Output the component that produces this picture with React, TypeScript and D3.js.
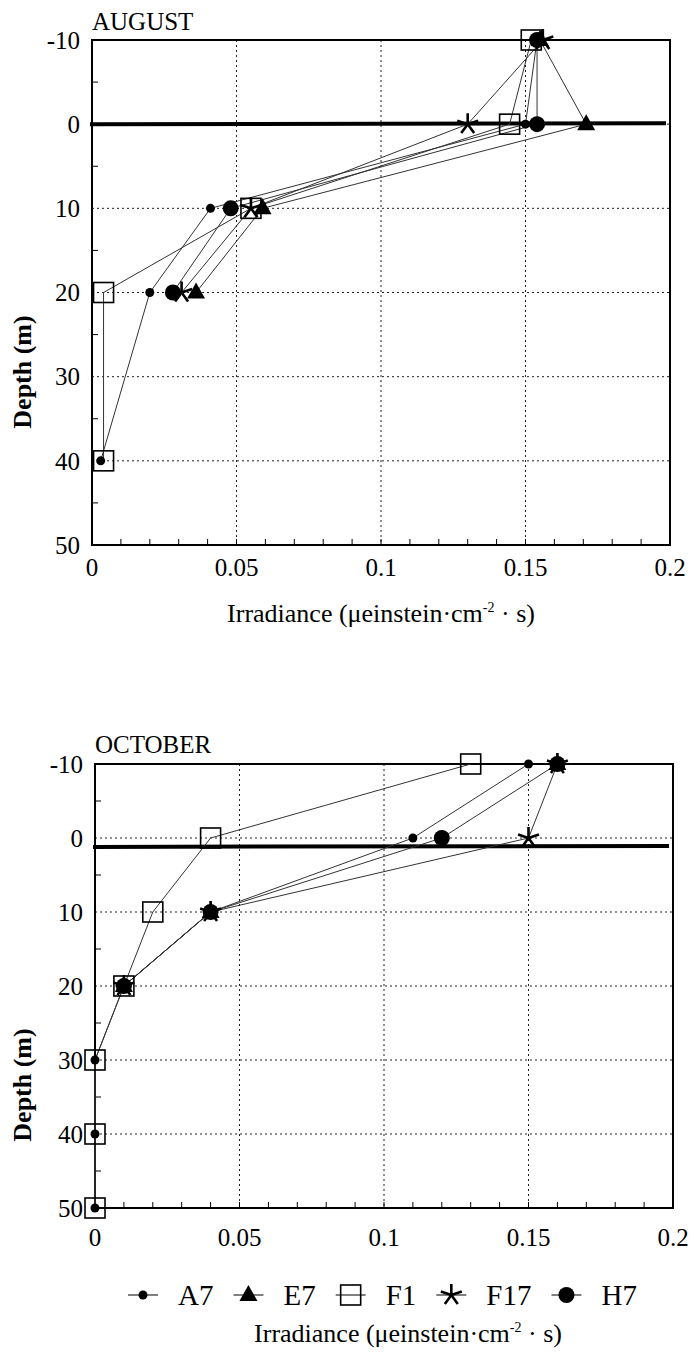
import * as d3 from 'd3'
import { useEffect, useRef } from 'react'

// depth (m) and irradiance readings per station
const depths = [-10, 0, 10, 20, 30, 40, 50]
const stations = ['A7', 'E7', 'F1', 'F17', 'H7']

const augA7 = [0.154, 0.150, 0.041, 0.020, null, 0.003, null]
const augE7 = [0.155, 0.171, 0.059, 0.036, null, null, null]
const augF1 = [0.152, 0.1445, 0.055, 0.004, null, 0.004, null]
const augF17 = [0.156, 0.130, 0.055, 0.031, null, null, null]
const augH7 = [0.154, 0.154, 0.048, 0.028, null, null, null]

const octA7 = [0.15, 0.11, 0.04, 0.01, 0, 0, 0]
const octE7 = [0.16, null, 0.04, 0.01, null, null, null]
const octF1 = [0.13, 0.04, 0.02, 0.01, 0, 0, 0]
const octF17 = [0.16, 0.15, 0.04, 0.01, null, null, null]
const octH7 = [0.16, 0.12, 0.04, 0.01, null, null, null]

const xTicks = [0, 0.05, 0.1, 0.15, 0.2]
const xTickLabels = ['0', '0.05', '0.1', '0.15', '0.2']
const yTicks = [-10, 0, 10, 20, 30, 40, 50]

const months = ['AUGUST', 'OCTOBER']
const surfaceDepths = [0, 1.2]

const FONT = '"Liberation Serif", "Times New Roman", serif'

type Values = (number | null)[]

const drawMarker = (g: any, name: string, x: number, y: number) => {
  if (name === 'A7') {
    g.append('circle').attr('cx', x).attr('cy', y).attr('r', 4.5).attr('fill', '#000')
  } else if (name === 'H7') {
    g.append('circle').attr('cx', x).attr('cy', y).attr('r', 8).attr('fill', '#000')
  } else if (name === 'E7') {
    g.append('path')
      .attr('d', `M${x},${y - 10}L${x + 9},${y + 6}L${x - 9},${y + 6}Z`)
      .attr('fill', '#000')
  } else if (name === 'F1') {
    g.append('rect')
      .attr('x', x - 10).attr('y', y - 10)
      .attr('width', 20).attr('height', 20)
      .attr('fill', 'none').attr('stroke', '#000').attr('stroke-width', 1.6)
  } else {
    // five armed asterisk
    const arms = d3.range(5).map(i => -Math.PI / 2 + i * 2 * Math.PI / 5)
    g.append('path')
      .attr('d', arms.map(a => `M${x},${y}L${x + Math.cos(a) * 11},${y + Math.sin(a) * 11}`).join(''))
      .attr('stroke', '#000').attr('stroke-width', 2.6).attr('fill', 'none')
  }
}

const drawPanel = (svg: any, opts: {
  x0: number, x1: number, yTop: number, yBot: number,
  title: string, surface: number, series: Values[], bridge: boolean,
  titleX: number, titleY: number, tickY: number, labelX: number, labelY: number, depthY: number,
}) => {
  const { x0, x1, yTop, yBot } = opts
  const x = d3.scaleLinear().domain([0, 0.2]).range([x0, x1])
  const y = d3.scaleLinear().domain([-10, 50]).range([yTop, yBot])
  const g = svg.append('g')

  // dotted grid
  g.selectAll('line.vg').data(xTicks.slice(1, -1)).enter().append('line')
    .attr('x1', (d: number) => x(d)).attr('x2', (d: number) => x(d))
    .attr('y1', yTop).attr('y2', yBot)
    .attr('stroke', '#222').attr('stroke-width', 1).attr('stroke-dasharray', '2,3')
  g.selectAll('line.hg').data(yTicks.slice(1, -1)).enter().append('line')
    .attr('x1', x0).attr('x2', x1)
    .attr('y1', (d: number) => y(d)).attr('y2', (d: number) => y(d))
    .attr('stroke', '#222').attr('stroke-width', 1).attr('stroke-dasharray', '2,3')

  // minor ticks
  g.selectAll('line.xt').data(d3.range(1, 20).map(i => i / 100)).enter().append('line')
    .attr('x1', (d: number) => x(d)).attr('x2', (d: number) => x(d))
    .attr('y1', yBot).attr('y2', yBot - 6)
    .attr('stroke', '#000').attr('stroke-width', 1)
  g.selectAll('line.yt').data(d3.range(-5, 50, 10)).enter().append('line')
    .attr('x1', x0).attr('x2', x0 + 6)
    .attr('y1', (d: number) => y(d)).attr('y2', (d: number) => y(d))
    .attr('stroke', '#000').attr('stroke-width', 1)

  g.append('rect')
    .attr('x', x0).attr('y', yTop).attr('width', x1 - x0).attr('height', yBot - yTop)
    .attr('fill', 'none').attr('stroke', '#000').attr('stroke-width', 2)

  // sea surface
  g.append('line')
    .attr('x1', x0 - 2).attr('x2', x1 - 4)
    .attr('y1', y(opts.surface)).attr('y2', y(opts.surface) - 1)
    .attr('stroke', '#000').attr('stroke-width', 4)

  // tick labels
  g.selectAll('text.yl').data(yTicks).enter().append('text')
    .attr('x', x0 - 12).attr('y', (d: number) => y(d)).attr('dy', '0.35em')
    .attr('text-anchor', 'end').attr('font-family', FONT).attr('font-size', 25)
    .text((d: number) => `${d}`)
  g.selectAll('text.xl').data(xTicks).enter().append('text')
    .attr('x', (d: number) => x(d)).attr('y', opts.tickY)
    .attr('text-anchor', 'middle').attr('font-family', FONT).attr('font-size', 25)
    .text((_d: number, i: number) => xTickLabels[i])

  g.append('text')
    .attr('x', opts.titleX).attr('y', opts.titleY)
    .attr('font-family', FONT).attr('font-size', 25).text(opts.title)

  g.append('text')
    .attr('transform', `translate(31,${opts.depthY}) rotate(-90)`)
    .attr('text-anchor', 'middle').attr('font-family', FONT).attr('font-size', 26)
    .attr('font-weight', 'bold')
    .text('Depth (m)')

  const lab = g.append('text')
    .attr('x', opts.labelX).attr('y', opts.labelY)
    .attr('text-anchor', 'middle').attr('font-family', FONT).attr('font-size', 26)
  lab.append('tspan').text('Irradiance (\u03bceinstein\u00b7cm')
  lab.append('tspan').attr('font-size', 14).attr('dy', -10).text('-2')
  lab.append('tspan').attr('dy', 10).text(' \u00b7 s)')

  // profiles
  const line = d3.line<[number, number | null]>()
    .defined(d => d[1] !== null)
    .x(d => x(d[1] as number))
    .y(d => y(d[0]))
  opts.series.forEach(vals => {
    let pts: [number, number | null][] = depths.map((d, i) => [d, vals[i]])
    if (opts.bridge) pts = pts.filter(p => p[1] !== null)
    g.append('path').attr('d', line(pts))
      .attr('fill', 'none').attr('stroke', '#333').attr('stroke-width', 1)
  })
  opts.series.forEach((vals, s) => {
    vals.forEach((v, i) => {
      if (v !== null) drawMarker(g, stations[s], x(v), y(depths[i]))
    })
  })
}

export default function App() {
  const ref = useRef<SVGSVGElement>(null)

  useEffect(() => {
    if (!ref.current) return
    document.body.style.margin = '0'
    const svg = d3.select(ref.current)
    svg.selectAll('*').remove()

    drawPanel(svg, {
      x0: 92, x1: 670, yTop: 40, yBot: 545,
      title: months[0], surface: surfaceDepths[0],
      series: [augA7, augE7, augF1, augF17, augH7], bridge: true,
      titleX: 92, titleY: 30, tickY: 576, labelX: 381, labelY: 622, depthY: 372,
    })
    drawPanel(svg, {
      x0: 95, x1: 673, yTop: 764, yBot: 1208,
      title: months[1], surface: surfaceDepths[1],
      series: [octA7, octE7, octF1, octF17, octH7], bridge: false,
      titleX: 95, titleY: 753, tickY: 1246, labelX: 408, labelY: 1342, depthY: 1085,
    })

    // legend
    const lg = svg.append('g')
    let cx = 128
    const ly = 1295
    stations.forEach(name => {
      lg.append('line').attr('x1', cx).attr('x2', cx + 30).attr('y1', ly).attr('y2', ly)
        .attr('stroke', '#000').attr('stroke-width', 1)
      drawMarker(lg, name, cx + 15, ly)
      const t = lg.append('text').attr('x', cx + 50).attr('y', ly + 10)
        .attr('font-family', FONT).attr('font-size', 29).text(name)
      const w = (t.node() as SVGTextElement).getComputedTextLength()
      cx = cx + 50 + w + 20
    })

    return () => { svg.selectAll('*').remove() }
  }, [])

  return <svg ref={ref} width={694} height={1365} style={{ display: 'block', background: '#fff' }} />
}
